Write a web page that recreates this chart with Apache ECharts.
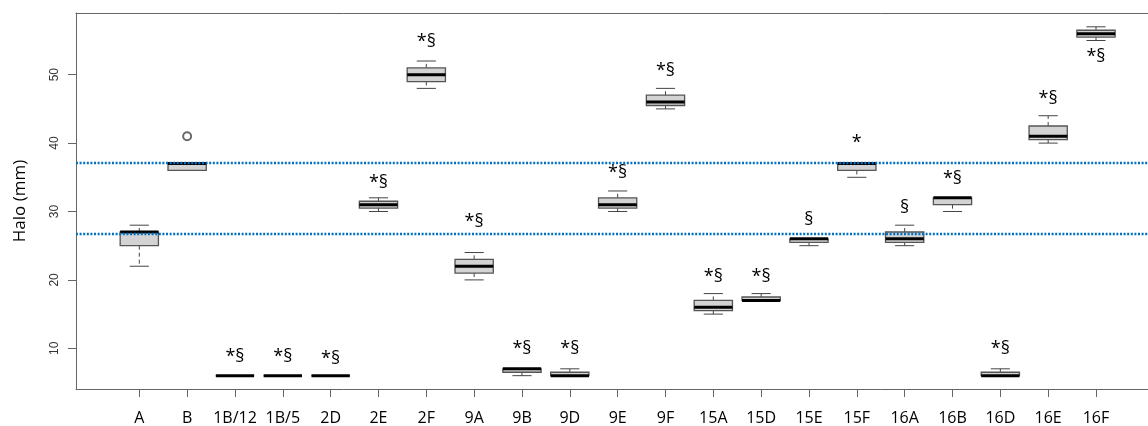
<!DOCTYPE html>
<html>
<head>
<meta charset="utf-8">
<script src="https://cdn.jsdelivr.net/npm/echarts@6/dist/echarts.min.js"></script>
<style>html,body{margin:0;padding:0;background:#fff}#chart{width:1148px;height:426px}</style>
</head>
<body>
<div id="chart"></div>
<script>
// ---- data ----
var categories = ['A','B','1B/12','1B/5','2D','2E','2F','9A','9B','9D','9E','9F','15A','15D','15E','15F','16A','16B','16D','16E','16F'];
var lowWhisker = [22, 36, 6, 6, 6, 30, 48, 20, 6,   6, 30,   45,   15,   17, 25,   35, 25,   30, 6,   40,   55];
var q1         = [25, 36, 6, 6, 6, 30.5, 49, 21, 6.5, 6, 30.5, 45.5, 15.5, 17, 25.5, 36, 25.5, 31, 6,   40.5, 55.5];
var median     = [27, 37, 6, 6, 6, 31, 50, 22, 7,   6, 31,   46,   16,   17, 26,   37, 26,   32, 6,   41,   56];
var q3         = [27, 37, 6, 6, 6, 31.5, 51, 23, 7, 6.5, 32,  47,   17,   17.5, 26, 37, 27,   32, 6.5, 42.5, 56.5];
var highWhisker= [28, 37, 6, 6, 6, 32, 52, 24, 7,   7, 33,   48,   18,   18, 26,   37, 28,   32, 7,   44,   57];
var outliers   = [['B', 41]];
var markText   = ['', '', '*§','*§','*§','*§','*§','*§','*§','*§','*§','*§','*§','*§','§','*','§','*§','*§','*§','*§'];
var markValue  = [null, null, 8.8, 8.7, 8.5, 34.2, 54.8, 28.5, 9.9, 9.9, 35.6, 50.6, 20.5, 20.5, 28.8, 40.1, 30.6, 34.8, 9.9, 46.5, 52.6];
var refLines   = [26.7, 37.2];
var yTicks     = [10, 20, 30, 40, 50];
var yName      = 'Halo (mm)';

// ---- build ----
var positions = categories.map(function (c, i) { return i + 1; });
var boxData = categories.map(function (c, i) {
  return [positions[i], lowWhisker[i], q1[i], median[i], q3[i], highWhisker[i]];
});
var textData = [];
categories.forEach(function (c, i) {
  if (markText[i]) textData.push([positions[i], markValue[i], markText[i]]);
});
var outlierData = outliers.map(function (o) { return [categories.indexOf(o[0]) + 1, o[1]]; });

var X_MIN = -0.3233, X_MAX = 22.087, Y_MIN = 4.05, Y_MAX = 59.02;

var chart = echarts.init(document.getElementById('chart'), null, { renderer: 'canvas' });
chart.setOption({
  animation: false,
  backgroundColor: '#fff',
  grid: { left: 76, right: 0, top: 13, bottom: 37 },
  xAxis: [{
    type: 'value', min: X_MIN, max: X_MAX, position: 'bottom',
    axisLine: { show: true, onZero: false, lineStyle: { color: '#666', width: 1 } },
    axisTick: { show: true, length: 8, customValues: positions, lineStyle: { color: '#666' } },
    axisLabel: {
      customValues: positions, margin: 21,
      formatter: function (v) { return categories[Math.round(v) - 1] || ''; },
      fontFamily: 'Open Sans', fontSize: 16, color: '#000'
    },
    splitLine: { show: false }
  }, {
    type: 'value', min: X_MIN, max: X_MAX, position: 'top',
    axisLine: { show: true, onZero: false, lineStyle: { color: '#666', width: 1 } },
    axisTick: { show: false }, axisLabel: { show: false }, splitLine: { show: false }
  }],
  yAxis: {
    type: 'value', min: Y_MIN, max: Y_MAX,
    name: yName, nameLocation: 'middle', nameGap: 47, nameRotate: 90,
    nameTextStyle: { fontFamily: 'Open Sans', fontSize: 17, color: '#000' },
    axisLine: { show: true, onZero: false, lineStyle: { color: '#666', width: 1 } },
    axisTick: { show: true, length: 8, customValues: yTicks, lineStyle: { color: '#666' } },
    axisLabel: { customValues: yTicks, rotate: 90, margin: 15, fontFamily: 'Liberation Sans', fontSize: 12, color: '#333' },
    splitLine: { show: false }
  },
  series: [{
    type: 'custom',
    xAxisIndex: 0,
    data: boxData,
    encode: { x: 0, y: [1, 2, 3, 4, 5] },
    renderItem: function (params, api) {
      var x = api.value(0);
      var pLo = api.coord([x, api.value(1)]);
      var pQ1 = api.coord([x, api.value(2)]);
      var pMed = api.coord([x, api.value(3)]);
      var pQ3 = api.coord([x, api.value(4)]);
      var pHi = api.coord([x, api.value(5)]);
      var w = api.size([0.8, 0])[0];
      var cx = pMed[0];
      var wl = { stroke: '#444', lineWidth: 1, lineDash: [4, 3] };
      var cl = { stroke: '#444', lineWidth: 1 };
      return {
        type: 'group',
        children: [
          { type: 'line', shape: { x1: cx, y1: pQ3[1], x2: cx, y2: pHi[1] }, style: wl },
          { type: 'line', shape: { x1: cx, y1: pQ1[1], x2: cx, y2: pLo[1] }, style: wl },
          { type: 'line', shape: { x1: cx - w / 4, y1: pHi[1], x2: cx + w / 4, y2: pHi[1] }, style: cl },
          { type: 'line', shape: { x1: cx - w / 4, y1: pLo[1], x2: cx + w / 4, y2: pLo[1] }, style: cl },
          { type: 'rect', shape: { x: cx - w / 2, y: pQ3[1], width: w, height: pQ1[1] - pQ3[1] },
            style: { fill: '#d3d3d3', stroke: '#555', lineWidth: 1.3 } },
          { type: 'line', shape: { x1: cx - w / 2, y1: pMed[1], x2: cx + w / 2, y2: pMed[1] },
            style: { stroke: '#000', lineWidth: 3 } }
        ]
      };
    }
  }, {
    type: 'custom',
    xAxisIndex: 0,
    data: textData,
    encode: { x: 0, y: 1 },
    renderItem: function (params, api) {
      var p = api.coord([api.value(0), api.value(1)]);
      return {
        type: 'text',
        x: p[0], y: p[1],
        style: {
          text: textData[params.dataIndex][2],
          fontFamily: 'Open Sans', fontSize: 18, fill: '#000',
          align: 'center', verticalAlign: 'middle'
        }
      };
    }
  }, {
    type: 'scatter',
    xAxisIndex: 0,
    z: 5,
    data: outlierData,
    symbol: 'emptyCircle', symbolSize: 8,
    itemStyle: { color: '#444', borderColor: '#444', borderWidth: 1 },
    markLine: {
      silent: true, symbol: 'none', animation: false,
      label: { show: false },
      lineStyle: { color: '#0070C0', width: 2.3, type: [2, 1.6], opacity: 1 },
      data: refLines.map(function (v) { return { yAxis: v }; })
    }
  }]
});
</script>
</body>
</html>
